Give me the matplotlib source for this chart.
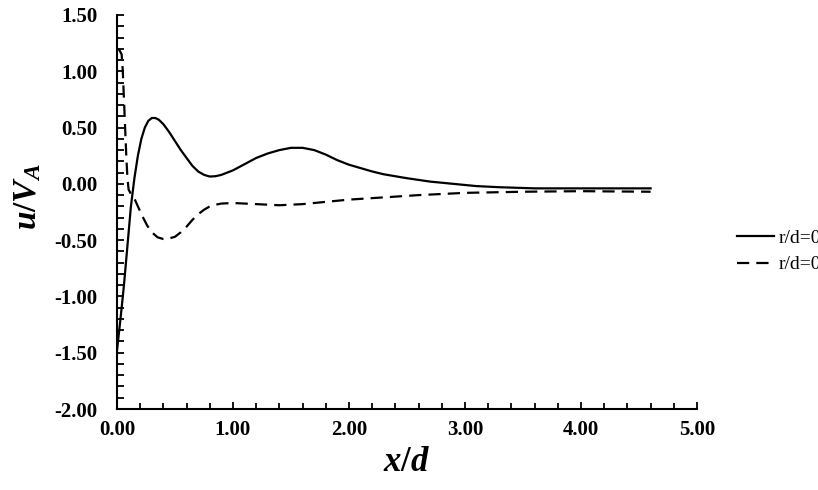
import matplotlib
matplotlib.use("Agg")
from matplotlib import pyplot as plt
from matplotlib.ticker import MultipleLocator, FormatStrFormatter

plt.rcParams['font.family'] = 'Liberation Serif'
plt.rcParams['mathtext.fontset'] = 'custom'
plt.rcParams['mathtext.it'] = 'Liberation Serif:italic:bold'
plt.rcParams['mathtext.rm'] = 'Liberation Serif:bold'

# solid curve
x_solid = [0.0, 0.03, 0.06, 0.09, 0.12, 0.15, 0.18, 0.21, 0.24, 0.27, 0.30, 0.33,
           0.36, 0.40, 0.45, 0.50, 0.55, 0.60, 0.65, 0.70, 0.75, 0.80, 0.85, 0.90,
           1.00, 1.10, 1.20, 1.30, 1.40, 1.50, 1.60, 1.70, 1.80, 1.90, 2.00, 2.10,
           2.20, 2.30, 2.50, 2.70, 2.90, 3.10, 3.30, 3.60, 4.00, 4.60]
u_solid = [-1.48, -1.20, -0.90, -0.55, -0.20, 0.05, 0.25, 0.40, 0.50, 0.56, 0.585, 0.585,
           0.57, 0.53, 0.46, 0.38, 0.30, 0.23, 0.16, 0.11, 0.08, 0.065, 0.068, 0.08,
           0.12, 0.175, 0.23, 0.27, 0.30, 0.32, 0.32, 0.30, 0.26, 0.21, 0.17, 0.14,
           0.11, 0.085, 0.05, 0.02, 0.0, -0.02, -0.03, -0.04, -0.04, -0.04]

# dashed curve
x_dash = [0.0, 0.02, 0.04, 0.05, 0.06, 0.07, 0.08, 0.09, 0.10, 0.12, 0.15, 0.18,
          0.22, 0.26, 0.30, 0.35, 0.40, 0.45, 0.50, 0.55, 0.60, 0.65, 0.70, 0.75,
          0.80, 0.85, 0.90, 1.00, 1.20, 1.40, 1.60, 1.80, 2.00, 2.30, 2.60, 3.00,
          3.50, 4.00, 4.60]
u_dash = [1.20, 1.19, 1.15, 1.00, 0.75, 0.50, 0.25, 0.05, -0.05, -0.09, -0.13, -0.20,
          -0.29, -0.37, -0.43, -0.475, -0.49, -0.485, -0.47, -0.43, -0.38, -0.32, -0.27, -0.23,
          -0.20, -0.185, -0.175, -0.17, -0.18, -0.19, -0.18, -0.16, -0.14, -0.12, -0.10, -0.08,
          -0.07, -0.065, -0.07]

labels = ["r/d=0", "r/d=0.5"]

fig = plt.figure(figsize=(8.18, 4.90), dpi=100)
ax = fig.add_axes([117/818, 1 - 409/490, 580/818, 394/490])

l1, = ax.plot(x_solid, u_solid, color='black', lw=1.6)
l2, = ax.plot(x_dash, u_dash, color='black', lw=1.6, dashes=(5.5, 3.2))

ax.set_xlim(0, 5)
ax.set_ylim(-2, 1.5)
ax.xaxis.set_major_locator(MultipleLocator(1))
ax.xaxis.set_minor_locator(MultipleLocator(0.2))
ax.yaxis.set_major_locator(MultipleLocator(0.5))
ax.yaxis.set_minor_locator(MultipleLocator(0.1))
ax.xaxis.set_major_formatter(FormatStrFormatter('%.2f'))
ax.yaxis.set_major_formatter(FormatStrFormatter('%.2f'))

for s in ['top', 'right']:
    ax.spines[s].set_visible(False)
for s in ['left', 'bottom']:
    ax.spines[s].set_linewidth(1.5)

ax.tick_params(which='both', direction='in', width=1.3, labelsize=15)
ax.tick_params(which='major', length=5)
ax.tick_params(which='minor', length=4)
ax.tick_params(axis='y', which='major', length=5, pad=14)
ax.tick_params(axis='y', which='minor', length=5)
ax.tick_params(axis='x', pad=8)
for t in ax.get_xticklabels() + ax.get_yticklabels():
    t.set_fontweight('bold')

ax.set_xlabel(r'$x/d$', fontsize=25, labelpad=4)
ax.set_ylabel(r'$u/V_A$', fontsize=24)
ax.yaxis.set_label_coords(-0.128, 0.54)

fig.legend([l1, l2], labels, loc='center left', bbox_to_anchor=(719/818, 1 - 251.5/490),
           frameon=False, fontsize=14, handlelength=1.95, handletextpad=0.2,
           labelspacing=0.45)

fig.savefig('out.png', dpi=100)
